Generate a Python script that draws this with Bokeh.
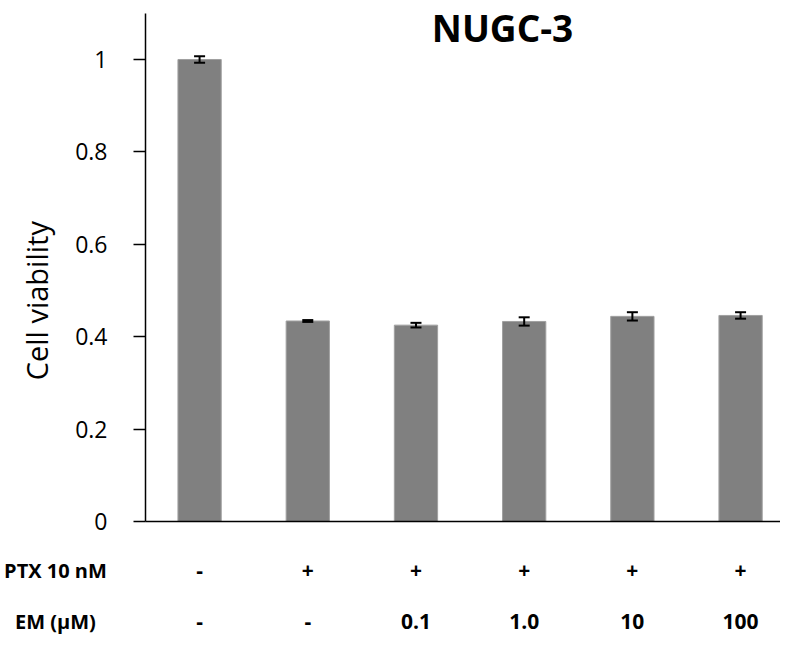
import math
from bokeh.plotting import figure
from bokeh.models import (ColumnDataSource, Range1d, Whisker, TeeHead,
                          Label, LabelSet, FixedTicker, LinearAxis)
from bokeh.core.properties import value
from bokeh.embed import file_html
from bokeh.resources import INLINE

# ---- data ----
conditions = ["Control", "PTX", "PTX+EM 0.1", "PTX+EM 1.0", "PTX+EM 10", "PTX+EM 100"]
viability = [1.000, 0.434, 0.425, 0.433, 0.444, 0.446]
errors = [0.007, 0.002, 0.005, 0.009, 0.009, 0.007]
ptx_labels = ["-", "+", "+", "+", "+", "+"]
em_labels = ["-", "-", "0.1", "1.0", "10", "100"]
y_ticks = [0, 0.2, 0.4, 0.6, 0.8, 1.0]
title_text = "NUGC-3"
y_label = "Cell viability"
row_headers = ["PTX 10 nM", "EM (\u03bcM)"]

FONT = "Open Sans"
W, H = 780, 636

# category slots: one unit per condition, centred at index + 0.5
x_pos = [i + 0.5 for i in range(len(conditions))]
n = len(conditions)

p = figure(x_range=Range1d(-1.340, 5.869), y_range=Range1d(-0.2489, 1.1277),
           width=W, height=H,
           min_border_left=0, min_border_right=0, min_border_top=0, min_border_bottom=0,
           x_axis_location=None, y_axis_location=None,
           output_backend="svg", toolbar_location=None)

p.background_fill_color = "white"
p.border_fill_color = "white"
p.outline_line_color = None
p.xgrid.grid_line_color = None
p.ygrid.grid_line_color = None

src = ColumnDataSource(dict(
    x=x_pos, cond=conditions, top=viability,
    upper=[v + e for v, e in zip(viability, errors)],
    lower=[v - e for v, e in zip(viability, errors)],
    ptx=ptx_labels, em=em_labels,
))

p.vbar(x="x", top="top", width=0.4, source=src,
       fill_color="#808080", line_color="#a0a0a0", line_width=1)

w = Whisker(base="x", upper="upper", lower="lower", source=src, level="overlay",
            line_color="black", line_width=2,
            upper_head=TeeHead(size=11, line_color="black", line_width=2),
            lower_head=TeeHead(size=11, line_color="black", line_width=2))
p.add_layout(w)

# y axis (fixed at x = 0, limited to the value range)
ya = LinearAxis(fixed_location=0, bounds=(0, 1.1))
ya.ticker = FixedTicker(ticks=y_ticks)
ya.major_label_overrides = {0: "0", 1: "1"}
ya.minor_tick_line_color = None
ya.major_tick_in = 0
ya.major_tick_out = 12
ya.major_tick_line_width = 1.5
ya.axis_line_width = 1.5
ya.axis_line_color = "black"
ya.major_tick_line_color = "black"
ya.major_label_standoff = 26
ya.major_label_text_font = FONT
ya.major_label_text_font_size = "23px"
ya.major_label_text_color = "black"
p.add_layout(ya, "left")

# x axis: baseline only, at y = 0
xa = LinearAxis(fixed_location=0, bounds=(0, n + 0.2))
xa.ticker = FixedTicker(ticks=[])
xa.axis_line_width = 1.5
xa.axis_line_color = "black"
xa.major_tick_line_color = None
xa.minor_tick_line_color = None
xa.major_label_text_font_size = "0px"
p.add_layout(xa, "below")

# title inside plot
p.add_layout(Label(x=3.30, y=1.0703, text=title_text, text_font=FONT,
                   text_font_style="bold", text_font_size="37px",
                   text_align="center", text_baseline="middle", text_color="black"))

# y axis label
p.add_layout(Label(x=-1.007, y=0.478, text=y_label, text_font=FONT,
                   text_font_size="29px", angle=math.pi / 2,
                   text_align="center", text_baseline="middle", text_color="black"))

# rows under the axis
row_y = [-0.106, -0.2165]
for hdr, ry in zip(row_headers, row_y):
    p.add_layout(Label(x=-0.832, y=ry, text=hdr, text_font=FONT,
                       text_font_style="bold", text_font_size="20px",
                       text_align="center", text_baseline="middle", text_color="black"))

for col, ry in zip(["ptx", "em"], row_y):
    p.add_layout(LabelSet(x="x", y=ry, text=col, source=src, text_font=value(FONT),
                          text_font_style="bold", text_font_size="21px",
                          text_align="center", text_baseline="middle", text_color="black"))

open("out.html", "w").write(file_html(p, INLINE))
